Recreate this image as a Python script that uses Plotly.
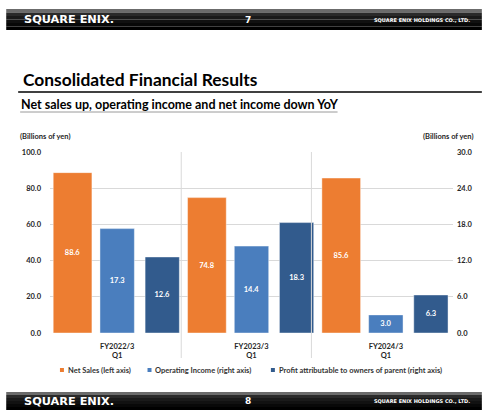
import plotly.graph_objects as go

categories = ["FY2022/3<br>Q1", "FY2023/3<br>Q1", "FY2024/3<br>Q1"]
net_sales = [88.6, 74.8, 85.6]          # left axis
operating_income = [17.3, 14.4, 3.0]    # right axis
profit_parent = [12.6, 18.3, 6.3]       # right axis
series_names = ["Net Sales (left axis)", "Operating Income (right axis)",
                "Profit attributable to owners of parent (right axis)"]
left_ticks = [0, 20, 40, 60, 80, 100]
right_ticks = [0, 6, 12, 18, 24, 30]

ORANGE = "#ED7D31"
BLUE = "#4A7EBE"
DARK = "#325B8D"
FONT = "Lato"

W, H = 484, 410
L, R, T, B = 50, 455, 152, 333   # plot area in pixels


def px(x):
    return (x - L) / (R - L)


def py(y):
    return (B - y) / (B - T)


xs = list(range(len(categories)))

fig = go.Figure()
common = dict(textposition="inside", insidetextanchor="middle", textangle=0,
              texttemplate="%{y:.1f}",
              textfont=dict(family=FONT, size=7.5, color="white", weight="bold"),
              marker_line=dict(width=0.6, color="rgba(255,255,255,0.7)"),
              showlegend=False, hoverinfo="skip")
fig.add_trace(go.Bar(x=xs, y=net_sales, name=series_names[0], marker_color=ORANGE,
                     offset=-0.476, width=0.288, yaxis="y", **common))
fig.add_trace(go.Bar(x=xs, y=operating_income, name=series_names[1], marker_color=BLUE,
                     offset=-0.128, width=0.256, yaxis="y2", **common))
fig.add_trace(go.Bar(x=xs, y=profit_parent, name=series_names[2], marker_color=DARK,
                     offset=0.208, width=0.255, yaxis="y2", **common))

tickfont = dict(family=FONT, size=7.5, color="#262626", weight="bold")

fig.update_layout(
    width=W, height=H,
    margin=dict(l=L, r=W - R, t=T, b=H - B, pad=0),
    paper_bgcolor="white", plot_bgcolor="white",
    barmode="overlay",
    xaxis=dict(range=[-0.5, len(categories) - 0.5], tickvals=xs, ticktext=categories,
               tickfont=tickfont, showgrid=False, zeroline=False, showline=False,
               ticks="", fixedrange=True, ticklabelstandoff=7),
    yaxis=dict(range=[0, 100], tickvals=left_ticks, tickformat=".1f",
               tickfont=tickfont, gridcolor="#D9D9D9", gridwidth=1,
               zeroline=False, showline=False, ticklabelstandoff=8),
    yaxis2=dict(range=[0, 30], tickvals=right_ticks, tickformat=".1f",
                tickfont=tickfont, overlaying="y", side="right", showgrid=False,
                zeroline=False, showline=False, ticklabelstandoff=3),
)

shapes = []
ann = []

# category separators
for xv in [0.477, 1.446]:
    shapes.append(dict(type="line", xref="x", yref="paper", x0=xv, x1=xv,
                       y0=1.0, y1=py(358), line=dict(color="#D9D9D9", width=1)))


# header and footer bars (simulated gradient)
def bar_band(y0, y1, shapes):
    n = 6
    cols = ["#6b6b6b", "#2a2a2a", "#1a1a1a", "#111111", "#080808", "#000000"]
    h = (y1 - y0) / n
    for i in range(n):
        shapes.append(dict(type="rect", xref="paper", yref="paper",
                           x0=px(6), x1=px(484), y0=py(y0 + i * h), y1=py(y0 + (i + 1) * h),
                           fillcolor=cols[i], line=dict(width=0), layer="above"))


bar_band(9, 30, shapes)
bar_band(392, 410, shapes)


def header_texts(yc, num):
    ann.append(dict(text="<b>SQUARE ENIX.</b>", x=px(22), y=py(yc), xanchor="left", yanchor="middle",
                    font=dict(family="DejaVu Sans", size=11.3, color="white")))
    ann.append(dict(text="<b>" + num + "</b>", x=px(249), y=py(yc), xanchor="center", yanchor="middle",
                    font=dict(family="DejaVu Sans", size=9, color="white")))
    ann.append(dict(text="<b>SQUARE ENIX HOLDINGS CO., LTD.</b>", x=px(474), y=py(yc), xanchor="right",
                    yanchor="middle", font=dict(family="DejaVu Sans", size=5, color="white")))


header_texts(19.5, "7")
header_texts(401, "8")

# title and subtitle
ann.append(dict(text="<b>Consolidated Financial Results</b>", x=px(21), y=py(79), xanchor="left",
                yanchor="middle", font=dict(family=FONT, size=17.4, color="#000000")))
shapes.append(dict(type="line", xref="paper", yref="paper", x0=px(18), x1=px(484),
                   y0=py(92), y1=py(92), line=dict(color="#000000", width=1.5)))
ann.append(dict(text="<b>Net sales up, operating income and net income down YoY</b>", x=px(19),
                y=py(104), xanchor="left", yanchor="middle",
                font=dict(family=FONT, size=12.5, color="#000000")))
shapes.append(dict(type="line", xref="paper", yref="paper", x0=px(20), x1=px(339),
                   y0=py(112), y1=py(112), line=dict(color="#9a9a9a", width=1)))

# unit labels
unit_font = dict(family=FONT, size=7.5, color="#262626", weight="bold")
ann.append(dict(text="(Billions of yen)", x=px(18), y=py(136.5), xanchor="left", yanchor="middle",
                font=unit_font))
ann.append(dict(text="(Billions of yen)", x=px(478), y=py(136.5), xanchor="right", yanchor="middle",
                font=unit_font))

# custom legend
leg_font = dict(family=FONT, size=7.5, color="#333333", weight="bold")
for (sx, name, col) in [(60, series_names[0], ORANGE), (148, series_names[1], BLUE),
                        (272, series_names[2], DARK)]:
    shapes.append(dict(type="rect", xref="paper", yref="paper", x0=px(sx), x1=px(sx + 4),
                       y0=py(368), y1=py(372), fillcolor=col, line=dict(width=0)))
    ann.append(dict(text=name, x=px(sx + 6), y=py(370), xanchor="left", yanchor="middle",
                    font=leg_font))

for a in ann:
    a.update(xref="paper", yref="paper", showarrow=False)

fig.update_layout(shapes=shapes, annotations=ann)

fig.write_html("out.html")
